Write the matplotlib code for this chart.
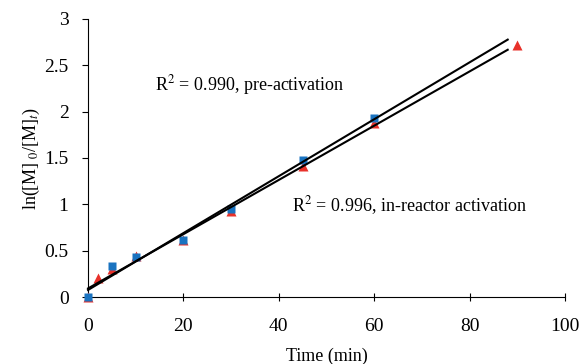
import numpy as np
import matplotlib.pyplot as plt

# data
t_pre = [0, 5, 10, 20, 30, 45, 60]
y_pre = [0.0, 0.34, 0.43, 0.62, 0.95, 1.48, 1.93]
t_in = [0, 2, 5, 10, 20, 30, 45, 60, 90]
y_in = [0.0, 0.2, 0.3, 0.44, 0.62, 0.93, 1.41, 1.88, 2.72]
fit_end = 88

plt.rcParams['font.family'] = ['Liberation Serif', 'DejaVu Serif']
plt.rcParams['mathtext.fontset'] = 'stix'

fig = plt.figure(figsize=(5.83, 3.64), dpi=100)
ax = fig.add_axes([0.151, 0.184, 0.818, 0.764])

ax.plot(t_in, y_in, '^', color='#e8312a', ms=7, mec='none', zorder=3)
ax.plot(t_pre, y_pre, 's', color='#1a73c0', ms=5.5, mec='none', zorder=4)

# linear trendlines
xx = np.array([0, fit_end])
for t, y in [(t_pre, y_pre), (t_in, y_in)]:
    k, b = np.polyfit(t, y, 1)
    ax.plot(xx, k * xx + b, color='black', lw=1.5, zorder=5)

ax.text(14, 2.29, r'R$^2$ = 0.990, pre-activation', fontsize=13, va='center')
ax.text(42.8, 0.99, r'R$^2$ = 0.996, in-reactor activation', fontsize=13, va='center')

ax.set_xlim(0, 100)
ax.set_ylim(0, 3)
ax.set_xticks([0, 20, 40, 60, 80, 100])
ax.set_yticks([0, 0.5, 1, 1.5, 2, 2.5, 3])
ax.set_yticklabels(['0', '0.5', '1', '1.5', '2', '2.5', '3'])
ax.tick_params(axis='x', direction='inout', length=6, labelsize=14, pad=12)
ax.tick_params(axis='y', direction='out', length=4, labelsize=14, pad=10)
ax.spines['top'].set_visible(False)
ax.spines['right'].set_visible(False)
ax.set_xlabel('Time (min)', fontsize=13, labelpad=9)
ax.set_ylabel(r'ln([M]$_{\ 0}$/[M]$_t$)', fontsize=13, labelpad=2)
for ln in ax.lines:
    ln.set_clip_on(False)

fig.savefig('out.png', dpi=100)
